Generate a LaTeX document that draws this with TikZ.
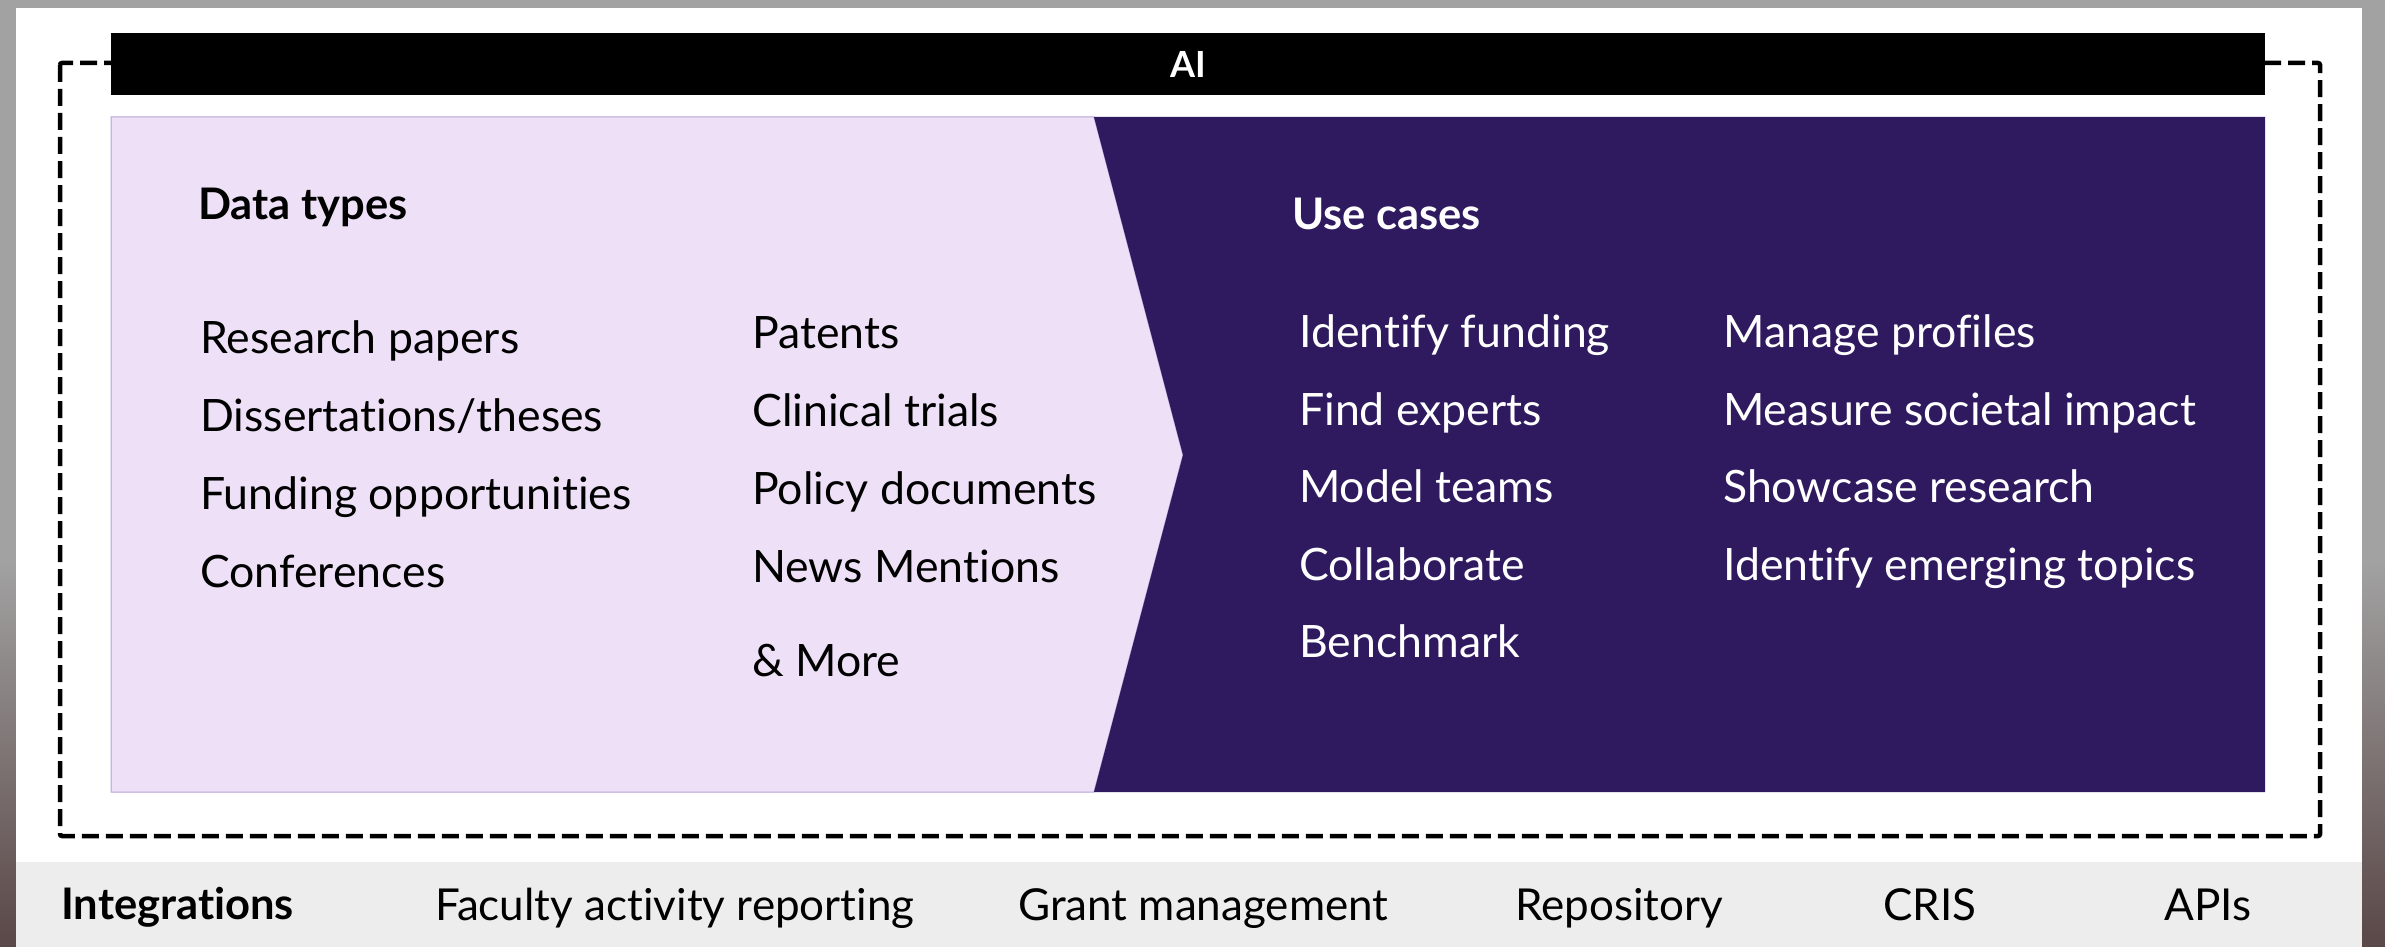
\documentclass[tikz,border=0pt]{standalone}
\usepackage{fontspec}
\setmainfont{Lato}[Ligatures=NoCommon]
\usepackage{xcolor}
\usetikzlibrary{positioning, calc}

\definecolor{FrameGray}{HTML}{A2A2A2}
\definecolor{FrameBrown}{HTML}{5A4747}
\definecolor{StripGray}{HTML}{EDEDED}
\definecolor{LightLilac}{HTML}{EEE1F7}
\definecolor{LilacEdge}{HTML}{B7A2D8}
\definecolor{DeepPurple}{HTML}{2F1A5F}

\newcommand{\itemfont}{\fontsize{44.6}{50}\selectfont}
\newcommand{\headfont}{\fontsize{43.5}{48}\selectfont\bfseries}
\newcommand{\stripfont}{\fontsize{44}{48}\selectfont}

\tikzset{
    itemtext/.style={anchor=base west, inner sep=0pt, font=\itemfont, text=black},
    usetext/.style={itemtext, text=white},
    headtext/.style={anchor=base west, inner sep=0pt, font=\headfont},
    striptext/.style={anchor=base west, inner sep=0pt, font=\stripfont, text=black},
    aibar/.style={rectangle, fill=black, text=white, minimum width=2154pt, minimum height=62pt,
        inner sep=0pt, font=\fontsize{36}{40}\selectfont\bfseries},
    aiframe/.style={draw=black, line width=4.5pt, dash pattern=on 17pt off 7pt, rounded corners=2pt},
}

\begin{document}
\begin{tikzpicture}[x=1pt, y=-1pt]
    % slide frame and background
    \fill[FrameGray] (0,0) rectangle (2385,947);
    \shade[top color=FrameGray, bottom color=FrameBrown] (0,560) rectangle (16,947);
    \shade[top color=FrameGray, bottom color=FrameBrown] (2362,560) rectangle (2385,947);
    \fill[white] (16,8) rectangle (2362,862);
    \fill[StripGray] (16,862) rectangle (2362,947);
    \useasboundingbox (0,0) rectangle (2385,947);

    % dashed AI frame, bar drawn on top of it
    \draw[aiframe] (60,63) rectangle (2320,836);
    \node[aibar] (ai) at (1188,64) {AI};

    % chevron panels
    \coordinate (nw) at (111,117);
    \coordinate (cut) at (1094,117);
    \coordinate (tip) at (1183,455);
    \coordinate (cutb) at (1094,792);
    \coordinate (sw) at (111,792);
    \coordinate (ne) at (2265,117);
    \coordinate (se) at (2265,792);
    \filldraw[fill=LightLilac, draw=LilacEdge, line width=1pt] (nw) -- (cut) -- (tip) -- (cutb) -- (sw) -- cycle;
    \fill[DeepPurple] (cut) -- (ne) -- (se) -- (cutb) -- (tip) -- cycle;

    % data types
    \node[headtext] (datatypes) at (198,219) {Data types};
    \node[itemtext] (papers) at (200,353) {Research papers};
    \node[itemtext, below=78pt of papers.base west, anchor=base west] (theses) {Dissertations/theses};
    \node[itemtext, below=78pt of theses.base west, anchor=base west] (funding) {Funding opportunities};
    \node[itemtext, below=78pt of funding.base west, anchor=base west] (conf) {Conferences};

    \node[itemtext] (patents) at (752,348) {Patents};
    \node[itemtext, below=78pt of patents.base west, anchor=base west] (trials) {Clinical trials};
    \node[itemtext, below=78pt of trials.base west, anchor=base west] (policy) {Policy documents};
    \node[itemtext, below=78pt of policy.base west, anchor=base west] (news) {News Mentions};
    \node[itemtext, below=94pt of news.base west, anchor=base west] (more) {\& More};

    % use cases
    \node[headtext, text=white] (usecases) at (1292,229) {Use cases};
    \node[usetext] (idfund) at (1299,347) {Identify funding};
    \node[usetext, below=78pt of idfund.base west, anchor=base west] (experts) {Find experts};
    \node[usetext, below=77pt of experts.base west, anchor=base west] (teams) {Model teams};
    \node[usetext, below=78pt of teams.base west, anchor=base west] (collab) {Collaborate};
    \node[usetext, below=77pt of collab.base west, anchor=base west] (bench) {Benchmark};

    \node[usetext] (profiles) at (1723,347) {Manage profiles};
    \node[usetext, below=78pt of profiles.base west, anchor=base west] (impact) {Measure societal impact};
    \node[usetext, below=77pt of impact.base west, anchor=base west] (showcase) {Showcase research};
    \node[usetext, below=78pt of showcase.base west, anchor=base west] (emerging) {Identify emerging topics};

    % integrations strip
    \node[headtext] (integ) at (61,919) {Integrations};
    \node[striptext] (faculty) at (435,920) {Faculty activity reporting};
    \node[striptext] (grant) at (1018,920) {Grant management};
    \node[striptext] (repo) at (1515,920) {Repository};
    \node[striptext] (cris) at (1883,920) {CRIS};
    \node[striptext] (apis) at (2164,920) {APIs};
\end{tikzpicture}
\end{document}
